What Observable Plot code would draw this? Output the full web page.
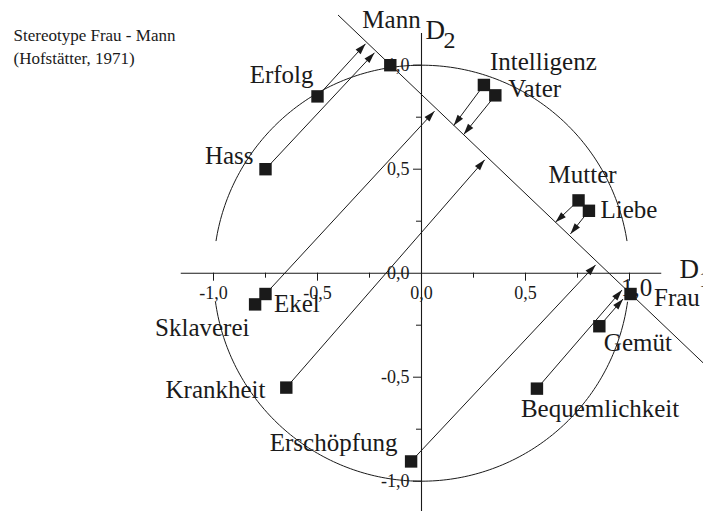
<!DOCTYPE html>
<html><head><meta charset="utf-8">
<script src="https://cdn.jsdelivr.net/npm/d3@7"></script>
<script src="https://cdn.jsdelivr.net/npm/@observablehq/plot@0.6"></script>
<style>
html,body{margin:0;padding:0;background:#fff;}
#chart{position:relative;width:703px;height:511px;overflow:hidden;}
#chart svg{display:block;}
</style></head><body><div id="chart"></div>
<script>
// ---------- data ----------
const titleLines = ["Stereotype Frau - Mann", "(Hofstätter, 1971)"];
const concepts = ["Mann","Erfolg","Hass","Intelligenz","Vater","Mutter","Liebe","Frau","Gemüt","Bequemlichkeit","Erschöpfung","Krankheit","Sklaverei","Ekel"];
const dim1 = [-0.15,-0.50,-0.75,0.30,0.355,0.755,0.805,1.005,0.855,0.555,-0.05,-0.65,-0.80,-0.75];
const dim2 = [1.00,0.85,0.50,0.905,0.855,0.35,0.30,-0.10,-0.255,-0.555,-0.905,-0.55,-0.15,-0.10];
// projection (arrow tip) on the Mann–Frau axis, null = no arrow
const tipDim1 = [null,-0.269,-0.226,0.155,0.203,0.644,0.716,null,0.969,0.964,0.837,0.304,null,0.0625];
const tipDim2 = [null,1.103,1.060,0.710,0.667,0.245,0.189,null,-0.124,-0.081,0.040,0.545,null,0.779];
// Mann–Frau axis end points
const mfAxisDim1 = [-0.40, 1.40];
const mfAxisDim2 = [1.24, -0.475];
// ticks
const majorTicks = [-1, -0.5, 0.5, 1];
const minorTicks = [-0.75, -0.25, 0.25, 0.75];
const xTickLabels = [-1, -0.5, 0, 0.5];
const xTickLabelEnd = [1];
const yTickLabels = [1, 0.5, 0, -0.5, -1];
const xAxisExtent = [-1.155, 1.155];
const yAxisExtent = [-1.3, 1.152];
// unit circle drawn as two arcs (degrees)
const arcStart = [9, 188];
const arcEnd = [171, 352];

// ---------- layout / style ----------
const K = 208, X0 = 421, Y0 = 272.7, W = 703, H = 511;
const FONT = "'Liberation Serif','Times New Roman',Times,serif";
const INK = "#1a1a1a";
const labelLayout = {
  "Mann": {anchor:"start", dx:-28, dy:-36.7},
  "Erfolg": {anchor:"end", dx:-4, dy:-13},
  "Hass": {anchor:"end", dx:-12, dy:-5.7},
  "Intelligenz": {anchor:"start", dx:6, dy:-15},
  "Vater": {anchor:"start", dx:13, dy:1.6},
  "Mutter": {anchor:"start", dx:-30, dy:-17},
  "Liebe": {anchor:"start", dx:11.6, dy:6.7},
  "Frau": {anchor:"start", dx:23.5, dy:11.5},
  "Gemüt": {anchor:"start", dx:4.5, dy:24.3},
  "Bequemlichkeit": {anchor:"start", dx:-16, dy:28},
  "Erschöpfung": {anchor:"end", dx:-13.6, dy:-10.5},
  "Krankheit": {anchor:"end", dx:-20.8, dy:10},
  "Sklaverei": {anchor:"end", dx:-5.6, dy:32},
  "Ekel": {anchor:"start", dx:8.5, dy:18}
};

const points = concepts.map((name, i) => ({name, x: dim1[i], y: dim2[i]}));
const arrows = concepts.map((name, i) => ({name, x1: dim1[i], y1: dim2[i], x2: tipDim1[i], y2: tipDim2[i]}))
  .filter(d => d.x2 != null);
const arcPts = [];
arcStart.forEach((a0, k) => {
  for (let a = a0; a <= arcEnd[k] + 1e-9; a += 1) {
    const r = a * Math.PI / 180;
    arcPts.push({arc: k, x: Math.cos(r), y: Math.sin(r)});
  }
});
const mfAxis = mfAxisDim1.map((x, i) => ({x, y: mfAxisDim2[i]}));
const fmt = d => (d < 0 ? "-" : "") + Math.abs(d).toFixed(1).replace(".", ",");

function filledArrow(color, context) {
  const ns = "http://www.w3.org/2000/svg";
  const doc = (context && context.document) || document;
  const m = doc.createElementNS(ns, "marker");
  m.setAttribute("viewBox", "-12 -4 12 8");
  m.setAttribute("markerWidth", "12");
  m.setAttribute("markerHeight", "8");
  m.setAttribute("markerUnits", "userSpaceOnUse");
  m.setAttribute("orient", "auto");
  m.setAttribute("refX", "0");
  m.setAttribute("refY", "0");
  const p = doc.createElementNS(ns, "path");
  p.setAttribute("d", "M-11,-3.4L0,0L-11,3.4Z");
  p.setAttribute("fill", color);
  p.setAttribute("stroke", "none");
  m.appendChild(p);
  return m;
}

function build(marker) {
  const marks = [
    Plot.line(arcPts, {x: "x", y: "y", z: "arc", stroke: INK, strokeWidth: 1}),
    Plot.ruleY([0], {x1: () => xAxisExtent[0], x2: () => xAxisExtent[1], stroke: INK, strokeWidth: 1.1}),
    Plot.ruleX([0], {y1: () => yAxisExtent[0], y2: () => yAxisExtent[1], stroke: INK, strokeWidth: 1.1}),
    Plot.ruleX(majorTicks, {x: d => d, y1: () => 0, y2: () => -8 / K, stroke: INK, strokeWidth: 1}),
    Plot.ruleX(minorTicks, {x: d => d, y1: () => 0, y2: () => -5 / K, stroke: INK, strokeWidth: 1}),
    Plot.ruleY(majorTicks, {y: d => d, x1: () => 0, x2: () => -8 / K, stroke: INK, strokeWidth: 1}),
    Plot.ruleY(minorTicks, {y: d => d, x1: () => 0, x2: () => -5 / K, stroke: INK, strokeWidth: 1}),
    Plot.text(xTickLabels, {x: d => d, y: () => 0, text: fmt, dy: 20, fontSize: 18, textAnchor: "middle", lineAnchor: "middle", fill: INK}),
    Plot.text(xTickLabelEnd, {x: d => d, y: () => 0, text: fmt, dx: 7, dy: 15, fontSize: 25, textAnchor: "middle", lineAnchor: "middle", fill: INK}),
    Plot.text(yTickLabels, {x: () => 0, y: d => d, text: fmt, dx: -12, fontSize: 18, textAnchor: "end", lineAnchor: "middle", fill: INK}),
    Plot.line(mfAxis, {x: "x", y: "y", stroke: INK, strokeWidth: 1}),
    Plot.link(arrows, {x1: "x1", y1: "y1", x2: "x2", y2: "y2", stroke: INK, strokeWidth: 1, markerEnd: marker}),
    Plot.dot(points, {x: "x", y: "y", symbol: "square", r: 7, fill: INK, stroke: "none"}),
    // axis names
    Plot.text(["D"], {x: () => 0, y: () => yAxisExtent[1], dx: 4, dy: 5.3, fontSize: 27, textAnchor: "start", lineAnchor: "bottom", fill: INK}),
    Plot.text(["2"], {x: () => 0, y: () => yAxisExtent[1], dx: 22, dy: 14, fontSize: 24, textAnchor: "start", lineAnchor: "bottom", fill: INK}),
    Plot.text(["D"], {x: () => xAxisExtent[1], y: () => 0, dx: 17.8, dy: 4.3, fontSize: 27, textAnchor: "start", lineAnchor: "bottom", fill: INK}),
    Plot.text(["1"], {x: () => xAxisExtent[1], y: () => 0, dx: 37.3, dy: 13.3, fontSize: 24, textAnchor: "start", lineAnchor: "bottom", fill: INK}),
    // title
    Plot.text([titleLines[0]], {frameAnchor: "top-left", dx: 13, dy: 40, fontSize: 17, textAnchor: "start", lineAnchor: "bottom", fill: INK}),
    Plot.text([titleLines[1]], {frameAnchor: "top-left", dx: 13, dy: 63, fontSize: 17, textAnchor: "start", lineAnchor: "bottom", fill: INK})
  ];
  points.forEach(p => {
    const L = labelLayout[p.name];
    marks.push(Plot.text([p], {x: "x", y: "y", text: "name", dx: L.dx, dy: L.dy, fontSize: 25,
      textAnchor: L.anchor, lineAnchor: "bottom", fill: INK}));
  });
  return Plot.plot({
    width: W, height: H,
    marginTop: 0, marginRight: 0, marginBottom: 0, marginLeft: 0,
    style: {fontFamily: FONT, background: "#fff", overflow: "hidden"},
    x: {domain: [-X0 / K, (W - X0) / K], range: [0, W], axis: null},
    y: {domain: [(Y0 - H) / K, Y0 / K], range: [H, 0], axis: null},
    marks
  });
}

let chart;
try { chart = build(filledArrow); }
catch (e) {
  chart = build("arrow");
  chart.querySelectorAll("marker").forEach(m => {
    m.setAttribute("fill", INK); m.setAttribute("stroke", "none");
    m.setAttribute("viewBox", "-12 -4 12 8");
    m.setAttribute("markerWidth", "12"); m.setAttribute("markerHeight", "8");
    m.setAttribute("markerUnits", "userSpaceOnUse");
    m.querySelectorAll("path").forEach(p => p.setAttribute("d", "M-11,-3.4L0,0L-11,3.4Z"));
  });
}
document.getElementById("chart").appendChild(chart);
</script>
</body></html>
